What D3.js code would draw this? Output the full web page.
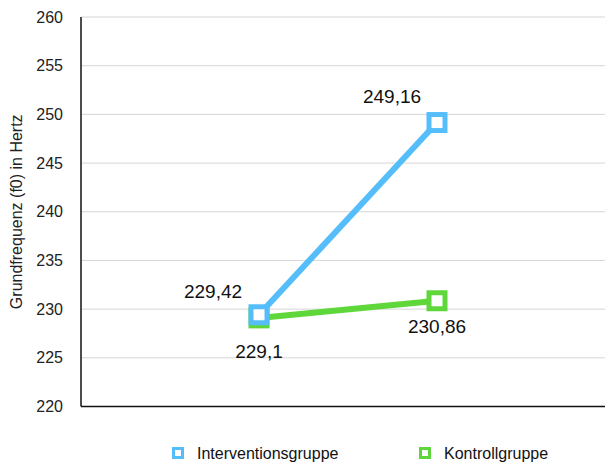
<!DOCTYPE html>
<html><head><meta charset="utf-8">
<script src="https://cdn.jsdelivr.net/npm/d3@7"></script>
<style>body{margin:0;background:#fff}svg{display:block}text{font-family:"Liberation Sans",Arial,Helvetica,sans-serif}</style>
</head><body><svg width="605" height="462"></svg>
<script>
const categories = ["Vorher", "Nachher"];
const seriesNames = ["Interventionsgruppe", "Kontrollgruppe"];
const interventionValues = [229.42, 249.16];
const controlValues = [229.1, 230.86];
const interventionLabels = ["229,42", "249,16"];
const controlLabels = ["229,1", "230,86"];
const yTicks = [220, 225, 230, 235, 240, 245, 250, 255, 260];
const colors = ["#55BEFA", "#5FD63A"];

(function () {
const svg = d3.select("svg");
const pLeft = 81, pRight = 615, pTop = 17, pBottom = 406.5;
const x = d3.scalePoint().domain(categories).range([pLeft, pRight]).padding(1);
const y = d3.scaleLinear().domain([220, 260]).range([pBottom, pTop]);

// gridlines
svg.append("g").selectAll("line").data(yTicks.filter(t => t > 220)).join("line")
  .attr("x1", pLeft).attr("x2", 605).attr("y1", d => y(d)).attr("y2", d => y(d))
  .attr("stroke", "#d6d6d6").attr("stroke-width", 1);

// y axis
const yAxis = d3.axisLeft(y).tickValues(yTicks).tickSize(0).tickPadding(18).tickFormat(d3.format("d"));
const gy = svg.append("g").attr("transform", `translate(${pLeft},0)`).call(yAxis);
gy.select(".domain").remove();
gy.selectAll("text").attr("font-size", 16).attr("fill", "#222");

svg.append("line").attr("x1", pLeft).attr("x2", pLeft).attr("y1", pTop).attr("y2", pBottom)
  .attr("stroke", "#111").attr("stroke-width", 1.5);
svg.append("line").attr("x1", pLeft).attr("x2", 605).attr("y1", pBottom).attr("y2", pBottom)
  .attr("stroke", "#111").attr("stroke-width", 1.5);

svg.append("text").attr("transform", `translate(22,${(pTop+pBottom)/2}) rotate(-90)`)
  .attr("text-anchor", "middle").attr("font-size", 16).attr("fill", "#222")
  .text("Grundfrequenz (f0) in Hertz");

const line = d3.line().x((d, i) => x(categories[i])).y(d => y(d));
const series = [
  {name: seriesNames[1], values: controlValues, color: colors[1]},
  {name: seriesNames[0], values: interventionValues, color: colors[0]}
];
series.forEach(s => {
  svg.append("path").datum(s.values).attr("d", line).attr("fill", "none")
    .attr("stroke", s.color).attr("stroke-width", 6);
  svg.append("g").selectAll("rect").data(s.values).join("rect")
    .attr("x", (d, i) => x(categories[i]) - 8).attr("y", d => y(d) - 8)
    .attr("width", 16).attr("height", 16).attr("fill", "#fff")
    .attr("stroke", s.color).attr("stroke-width", 5);
});

const lab = (cx, cy, t) => svg.append("text").attr("x", cx).attr("y", cy)
  .attr("text-anchor", "middle").attr("font-size", 19).attr("fill", "#111").text(t);
lab(x(categories[0]) - 46, y(interventionValues[0]) - 17, interventionLabels[0]);
lab(x(categories[1]) - 45, y(interventionValues[1]) - 20, interventionLabels[1]);
lab(x(categories[0]), y(controlValues[0]) + 40, controlLabels[0]);
lab(x(categories[1]), y(controlValues[1]) + 32, controlLabels[1]);

// legend
const leg = [{name: seriesNames[0], color: colors[0], x: 178}, {name: seriesNames[1], color: colors[1], x: 425}];
leg.forEach(l => {
  svg.append("rect").attr("x", l.x - 4.5).attr("y", 448.5).attr("width", 9).attr("height", 9)
    .attr("fill", "#fff").attr("stroke", l.color).attr("stroke-width", 3);
  svg.append("text").attr("x", l.x + 19).attr("y", 459).attr("font-size", 16).attr("fill", "#111").text(l.name);
});
})();
</script></body></html>
